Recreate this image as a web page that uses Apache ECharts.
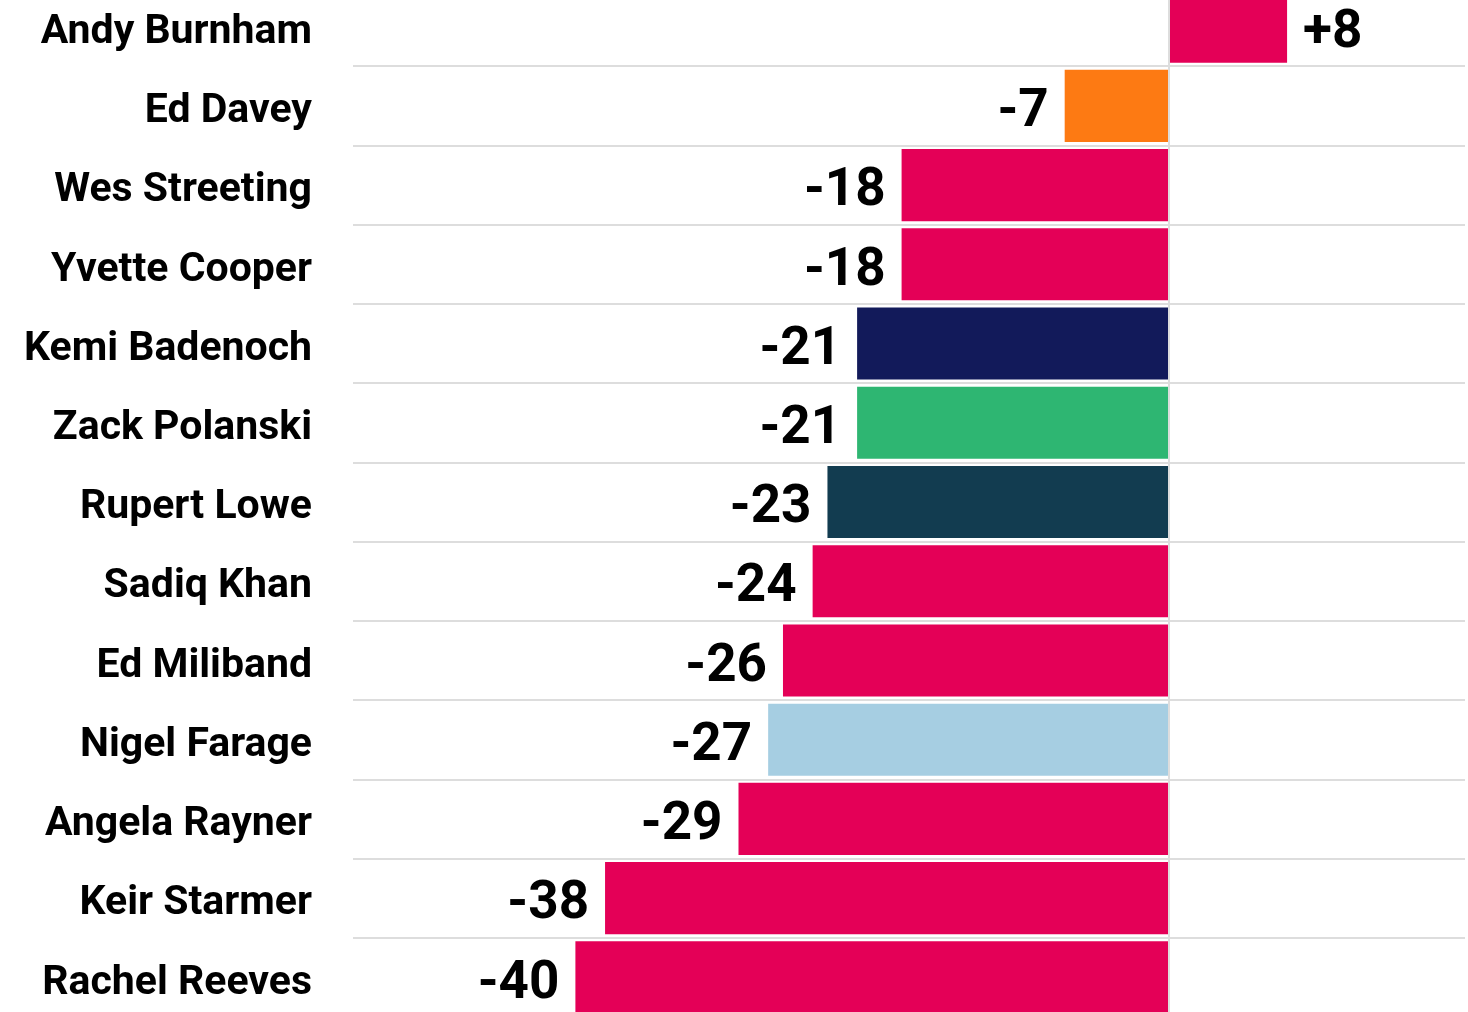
<!DOCTYPE html>
<html>
<head>
<meta charset="utf-8">
<script src="https://cdn.jsdelivr.net/npm/echarts@6/dist/echarts.min.js"></script>
<style>
html,body{margin:0;padding:0;background:#fff;overflow:hidden;width:1468px;height:1012px;}
#chart{position:absolute;left:0;top:-13px;width:1468px;height:1030px;}
</style>
</head>
<body>
<div id="chart"></div>
<script>
const names = ['Andy Burnham','Ed Davey','Wes Streeting','Yvette Cooper','Kemi Badenoch','Zack Polanski','Rupert Lowe','Sadiq Khan','Ed Miliband','Nigel Farage','Angela Rayner','Keir Starmer','Rachel Reeves'];
const values = [8,-7,-18,-18,-21,-21,-23,-24,-26,-27,-29,-38,-40];
const parties = ['Labour','LibDem','Labour','Labour','Conservative','Green','Restore','Labour','Labour','Reform','Labour','Labour','Labour'];

const partyColors = {
  Labour:'#E40057', LibDem:'#FD7A13', Conservative:'#121A5A',
  Green:'#2EB672', Restore:'#123C50', Reform:'#A6CEE2'
};

const chart = echarts.init(document.getElementById('chart'));
const labelFont = {fontFamily:'Roboto', fontWeight:700, color:'#000'};

chart.setOption({
  animation:false,
  grid:{left:353, right:3, top:0, bottom:0, containLabel:false},
  xAxis:{
    type:'value', min:-55, max:20, interval:5,
    axisLine:{show:false}, axisTick:{show:false}, axisLabel:{show:false},
    splitLine:{show:false}
  },
  yAxis:{
    type:'category', inverse:true, data:names,
    axisLine:{show:false}, axisTick:{show:false},
    axisLabel:Object.assign({fontSize:41, margin:41, verticalAlign:'top', lineHeight:12}, labelFont),
    splitLine:{show:true, lineStyle:{color:'#dddddd', width:2}}
  },
  series:[{
    type:'bar',
    barCategoryGap:'9%',
    data: values.map((v,i)=>({
      value:v,
      itemStyle:{color:partyColors[parties[i]]},
      label:{position: v>=0 ? 'right' : 'left'}
    })),
    label:Object.assign({
      show:true, distance:16, fontSize:53, offset:[0,7],
      formatter:p=> p.value>0 ? '+'+p.value : String(p.value)
    }, labelFont),
    markLine:{
      silent:true, symbol:'none', animation:false,
      label:{show:false},
      lineStyle:{color:'#dddddd', width:2, type:'solid'},
      data:[{xAxis:0}]
    }
  }]
});
</script>
</body>
</html>
